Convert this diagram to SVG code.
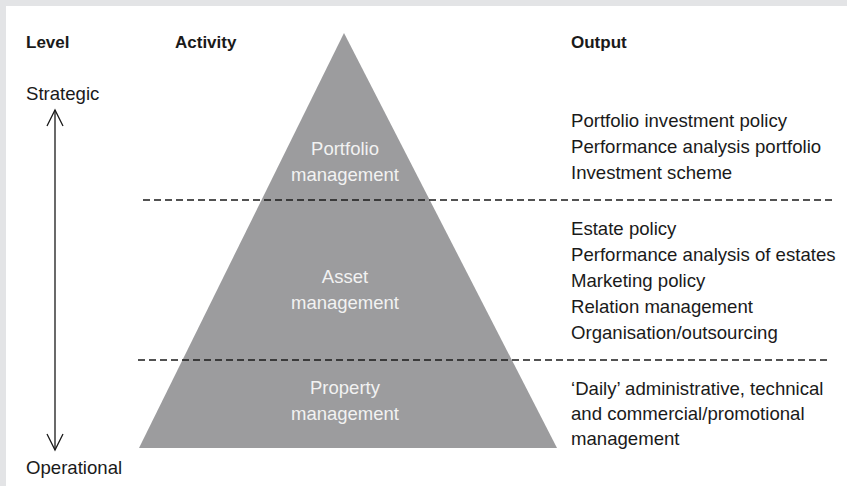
<svg xmlns="http://www.w3.org/2000/svg" width="847" height="486" viewBox="0 0 847 486">
<defs>
<style>
.hd{font-family:"Liberation Sans",Arial,sans-serif;font-weight:bold;font-size:17px;fill:#1a1a1a}
.tx{font-family:"Liberation Sans",Arial,sans-serif;font-size:18.6px;fill:#1a1a1a}
.wt{font-family:"Liberation Sans",Arial,sans-serif;font-size:18.5px;fill:#f2f2f2;text-anchor:middle}
.dash{stroke:#1a1a1a;stroke-width:1.3;stroke-dasharray:7 4;fill:none}
.ln{stroke:#1a1a1a;stroke-width:1.3;fill:none}
</style>
<marker id="vh" viewBox="-18 -10 20 20" refX="0" refY="0" markerWidth="20" markerHeight="20" markerUnits="userSpaceOnUse" orient="auto-start-reverse">
<path d="M-16,-8 L0,0 L-16,8" fill="none" stroke="#1a1a1a" stroke-width="1.3"/>
</marker>
</defs>
<rect x="0" y="0" width="847" height="486" fill="#e3e4e6"/>
<rect x="6" y="6" width="841" height="480" fill="#ffffff"/>

<g id="headers">
<text class="hd" x="26" y="48">Level</text>
<text class="hd" x="175" y="48">Activity</text>
<text class="hd" x="571" y="48">Output</text>
</g>

<g id="pyramid">
<polygon points="344,33 139,448 557,448" fill="#9c9c9e"/>
</g>

<g id="portfolio">
<text class="wt" x="345" y="155">Portfolio</text>
<text class="wt" x="345" y="181">management</text>
</g>
<g id="asset">
<text class="wt" x="345" y="283">Asset</text>
<text class="wt" x="345" y="309">management</text>
</g>
<g id="property">
<text class="wt" x="345" y="394">Property</text>
<text class="wt" x="345" y="420">management</text>
</g>

<g id="strategic"><text class="tx" x="26" y="100">Strategic</text></g>
<g id="operational"><text class="tx" x="26" y="474">Operational</text></g>

<g id="output-portfolio">
<text class="tx" x="571" y="127">Portfolio investment policy</text>
<text class="tx" x="571" y="153">Performance analysis portfolio</text>
<text class="tx" x="571" y="179">Investment scheme</text>
</g>
<g id="output-asset">
<text class="tx" x="571" y="235">Estate policy</text>
<text class="tx" x="571" y="261">Performance analysis of estates</text>
<text class="tx" x="571" y="287">Marketing policy</text>
<text class="tx" x="571" y="313">Relation management</text>
<text class="tx" x="571" y="339">Organisation/outsourcing</text>
</g>
<g id="output-property">
<text class="tx" x="571" y="395">‘Daily’ administrative, technical</text>
<text class="tx" x="571" y="420">and commercial/promotional</text>
<text class="tx" x="571" y="445">management</text>
</g>

<g id="connectors">
<line class="ln" x1="55" y1="110" x2="55" y2="450" marker-start="url(#vh)" marker-end="url(#vh)"/>
<line class="dash" x1="143" y1="200" x2="834" y2="200"/>
<line class="dash" x1="138" y1="360" x2="828" y2="360"/>
</g>
</svg>
